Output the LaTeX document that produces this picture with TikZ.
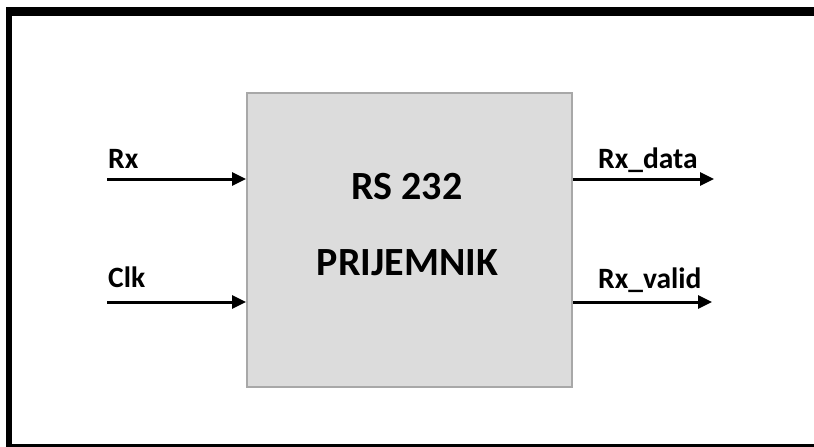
\documentclass[tikz,border=0pt]{standalone}
\usepackage{fontspec}
\setmainfont{Carlito}
\usepackage{xcolor}
\usetikzlibrary{arrows.meta,positioning}
\definecolor{boxfill}{HTML}{DCDCDC}
\definecolor{boxline}{HTML}{A8A8A8}

\begin{document}
\begin{tikzpicture}[
  x=1pt, y=-1pt,
  block/.style={draw=boxline, fill=boxfill, line width=2pt, minimum width=325pt, minimum height=294pt, inner sep=0pt},
  title/.style={font=\fontsize{40}{42}\selectfont\bfseries, anchor=base, inner sep=0pt},
  sig/.style={font=\fontsize{29.5}{31}\selectfont\bfseries, anchor=base west, inner sep=0pt},
  arr/.style={-{Triangle[length=14pt,width=13pt]}, line width=3pt}
]
\useasboundingbox (0,0) rectangle (814,447);
% frame
\fill[black] (6,7) rectangle (830,447);
\fill[white] (12,16) rectangle (830,444);
% receiver block
\node[block] (rx) at (409.5,240) {};
\node[title] (t1) at (407,199) {RS 232};
\node[title] (t2) at (407.5,275) {PRIJEMNIK};
% inputs
\coordinate (inrx) at (107,179);
\coordinate (inclk) at (107,302);
\node[sig] (lrx) at (108,168) {Rx};
\node[sig] (lclk) at (108,287) {Clk};
\draw[arr] (inrx) -- (inrx -| rx.west);
\draw[arr] (inclk) -- (inclk -| rx.west);
% outputs
\coordinate (outdata) at (714,179);
\coordinate (outvalid) at (712,302);
\node[sig] (ldata) at (598,168) {Rx\_data};
\node[sig] (lvalid) at (598,288) {Rx\_valid};
\draw[arr] (outdata -| rx.east) -- (outdata);
\draw[arr] (outvalid -| rx.east) -- (outvalid);
\end{tikzpicture}
\end{document}
